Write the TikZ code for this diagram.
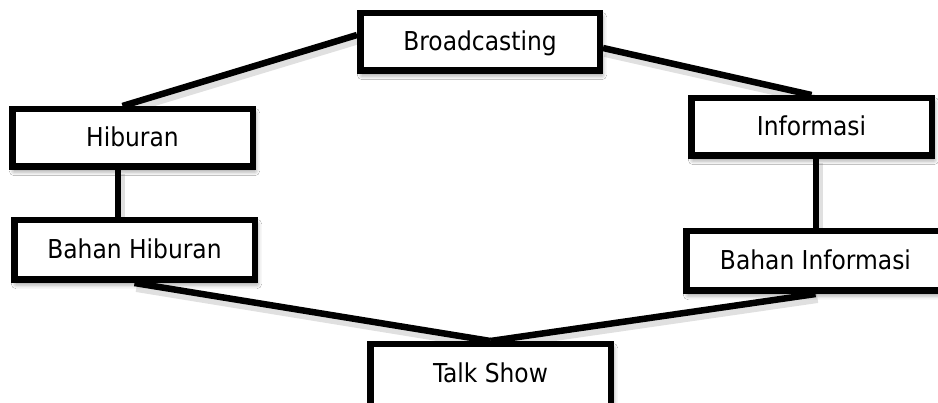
\documentclass[tikz,border=0pt]{standalone}
\usepackage{fontspec}
\setmainfont{DejaVu Sans Condensed}
\usetikzlibrary{shadows.blur,backgrounds,calc}
\tikzset{
  box/.style={draw=black, line width=6.5pt, fill=white, inner sep=0pt,
    text height=21pt, text depth=4.5pt,
    font=\fontsize{26}{30}\selectfont,
    blur shadow={shadow xshift=2pt, shadow yshift=-4pt,
      shadow blur radius=5pt, shadow opacity=50}},
  link/.style={line width=6.5pt, draw=black},
  linkshade/.style={line width=10pt, draw=black, draw opacity=0.12,
    transform canvas={shift={(2pt,-4pt)}}}
}
\begin{document}
\begin{tikzpicture}[x=1pt, y=-1pt]
  \useasboundingbox (0,0) rectangle (938,403);
  \clip (0,0) rectangle (938,403);

  % boxes
  \node[box, minimum width=239.5pt, minimum height=57.5pt] (b)  at (480,42)    {Broadcasting};
  \node[box, minimum width=240.5pt, minimum height=57.5pt] (h)  at (132.5,138) {Hiburan};
  \node[box, minimum width=240.5pt, minimum height=57.5pt] (i)  at (811.5,127) {Informasi};
  \node[box, minimum width=240.5pt, minimum height=59.5pt] (bh) at (134.5,250) {Bahan Hiburan};
  \node[box, minimum width=258.5pt, minimum height=59.5pt] (bi) at (815.5,261) {Bahan Informasi};
  % the lowest box runs past the lower edge of the page
  \node[box, minimum width=240.5pt, minimum height=66pt, text depth=10.5pt]
    (t) at (490.5,377.25) {Talk Show};

  % connector ends
  \coordinate (bw)  at ($(b.west)+(0,-7)$);
  \coordinate (hn)  at ($(h.north)+(-10,0)$);
  \coordinate (be)  at ($(b.east)+(0,6)$);
  \coordinate (inf) at (i.north);
  \coordinate (hs)  at ($(h.south)+(-14.5,0)$);
  \coordinate (bhn) at (hs |- bh.north);
  \coordinate (is)  at ($(i.south)+(4.5,0)$);
  \coordinate (bin) at (is |- bi.north);

  \begin{pgfonlayer}{background}
    \fill[white] (0,0) rectangle (938,403);
    \foreach \p/\q in {bw/hn, be/inf, hs/bhn, is/bin, bh.south/t.north, bi.south/t.north}
      \draw[linkshade] (\p) -- (\q);
    \foreach \p/\q in {bw/hn, be/inf, hs/bhn, is/bin, bh.south/t.north, bi.south/t.north}
      \draw[link] (\p) -- (\q);
  \end{pgfonlayer}
\end{tikzpicture}
\end{document}
